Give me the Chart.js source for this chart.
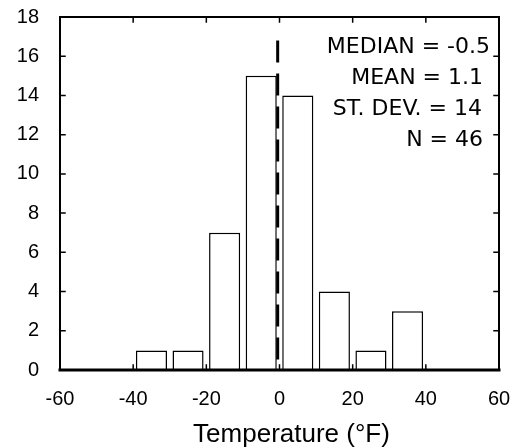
<!DOCTYPE html>
<html>
<head>
<meta charset="utf-8">
<script src="https://cdn.jsdelivr.net/npm/chart.js@4.4.0/dist/chart.umd.min.js"></script>
<style>
  html, body { margin: 0; padding: 0; background: #fff; }
  #hist { display: block; }
</style>
</head>
<body>
<canvas id="hist" width="520" height="447"></canvas>
<script>
"use strict";

// --- data
const binCenters = [-35, -25, -15, -5, 5, 15, 25, 35];
const binCounts = [1, 1, 7, 15, 14, 4, 1, 3];
const medianValue = -0.5;
const medianTop = 16.8;
const statLabels = ["MEDIAN = -0.5", "MEAN = 1.1", "ST. DEV. = 14", "N = 46"];
const xTitle = "Temperature (°F)";

// frame with inward ticks on all four sides + stats text + axis title
const framePlugin = {
    id: "frame",
    afterDraw(chart) {
        const { ctx, chartArea: a, scales } = chart;
        const x = scales.x, y = scales.y;
        ctx.save();
        ctx.strokeStyle = "#000";
        ctx.lineCap = "square";

        // ticks
        ctx.lineWidth = 1.5;
        ctx.beginPath();
        for (let v = -40; v <= 40; v += 20) {
            const px = x.getPixelForValue(v);
            ctx.moveTo(px, a.bottom); ctx.lineTo(px, a.bottom - 5);
            ctx.moveTo(px, a.top); ctx.lineTo(px, a.top + 5);
        }
        for (let v = 2; v <= 16; v += 2) {
            const py = y.getPixelForValue(v);
            ctx.moveTo(a.left, py); ctx.lineTo(a.left + 5, py);
            ctx.moveTo(a.right, py); ctx.lineTo(a.right - 5, py);
        }
        ctx.stroke();

        // box
        ctx.lineWidth = 2;
        ctx.beginPath();
        ctx.moveTo(a.left, a.bottom);
        ctx.lineTo(a.left, a.top);
        ctx.lineTo(a.right, a.top);
        ctx.lineTo(a.right, a.bottom);
        ctx.stroke();
        ctx.lineWidth = 3;
        ctx.beginPath();
        ctx.moveTo(a.left, a.bottom);
        ctx.lineTo(a.right, a.bottom);
        ctx.stroke();

        // stats text
        ctx.fillStyle = "#000";
        ctx.font = "22px 'DejaVu Sans'";
        ctx.textAlign = "right";
        ctx.textBaseline = "alphabetic";
        const rightEdges = [490, 483, 482, 483];
        statLabels.forEach((s, i) => {
            ctx.fillText(s, rightEdges[i], 53 + i * 31);
        });

        // x axis title (sits a bit right of centre in the original)
        ctx.font = "26px 'Liberation Sans'";
        ctx.textAlign = "center";
        ctx.fillText(xTitle, a.left + (a.right - a.left) / 2 + 12, 442);
        ctx.restore();
    }
};

const ctx = document.getElementById("hist").getContext("2d");
new Chart(ctx, {
    data: {
        datasets: [
            {
                type: "line",
                data: [
                    { x: medianValue, y: medianTop },
                    { x: medianValue, y: 0 }
                ],
                borderColor: "#000",
                borderWidth: 3,
                borderDash: [22, 11],
                pointRadius: 0,
                fill: false,
                order: 0
            },
            {
                type: "bar",
                data: binCenters.map((c, i) => ({ x: c, y: binCounts[i] })),
                backgroundColor: "#fff",
                borderColor: "#000",
                borderWidth: 1.5,
                categoryPercentage: 1,
                barPercentage: 0.85,
                order: 1
            }
        ]
    },
    options: {
        responsive: false,
        animation: false,
        layout: { padding: { top: 17, right: 21, left: 0, bottom: 0 } },
        plugins: { legend: { display: false }, tooltip: { enabled: false } },
        scales: {
            x: {
                type: "linear",
                min: -60,
                max: 60,
                offset: false,
                grid: { display: false, offset: false },
                border: { display: false },
                ticks: {
                    stepSize: 20,
                    color: "#000",
                    padding: 9,
                    maxRotation: 0,
                    font: { family: "'Liberation Sans'", size: 20 }
                },
                afterFit(scale) {
                    scale.height = 77;
                    scale.paddingLeft = 0;
                    scale.paddingRight = 0;
                }
            },
            y: {
                min: 0,
                max: 18,
                grid: { display: false },
                border: { display: false },
                ticks: {
                    stepSize: 2,
                    color: "#000",
                    padding: 13,
                    font: { family: "'Liberation Sans'", size: 20 }
                },
                afterFit(scale) {
                    scale.width = 60;
                    scale.paddingTop = 0;
                    scale.paddingBottom = 0;
                }
            }
        }
    },
    plugins: [framePlugin]
});
</script>
</body>
</html>
